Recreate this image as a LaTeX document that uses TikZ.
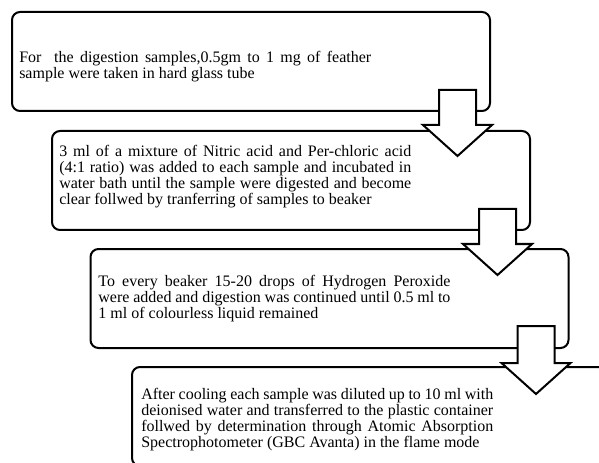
\documentclass[tikz,border=0pt]{standalone}
\usepackage{fontspec}
\setmainfont{Liberation Serif}
\usetikzlibrary{calc}
\tolerance=10000
\hyphenpenalty=10000

\tikzset{
  stepbox/.style={draw, line width=1.5pt, rounded corners=6pt, fill=white,
    minimum width=358.5pt, minimum height=74.25pt, inner sep=0pt},
  steptext/.style={anchor=west, inner sep=0pt, text width=264pt, align=justify,
    font=\fontsize{12pt}{12pt}\selectfont},
  blockarrow/.style={draw, line width=1.5pt, fill=white, line join=miter}
}

\begin{document}
\begin{tikzpicture}[x=0.75pt,y=-0.75pt]
\useasboundingbox (0,0) rectangle (599,463);
\clip (0,0) rectangle (599,463);

\node[stepbox] (s1) at (251,61.5) {};
\node[stepbox] (s2) at (291,180.5) {};
\node[stepbox] (s3) at (329.5,298.5) {};
\node[stepbox] (s4) at (371,416.5) {};

\draw[blockarrow] ($(s1.south east)+(-52,-22)$) -- ++(37,0) -- ++(0,35) -- ++(16,0)
  -- ++(-34.5,31) -- ++(-34.5,-31) -- ++(16,0) -- cycle;
\draw[blockarrow] ($(s2.south east)+(-52,-22)$) -- ++(37,0) -- ++(0,35) -- ++(16,0)
  -- ++(-34.5,31) -- ++(-34.5,-31) -- ++(16,0) -- cycle;
\draw[blockarrow] ($(s3.south east)+(-52,-23)$) -- ++(37,0) -- ++(0,37) -- ++(16,0)
  -- ++(-34.5,31) -- ++(-34.5,-31) -- ++(16,0) -- cycle;

\node[steptext] (t1) at ([xshift=6pt,yshift=-3.5pt]s1.west) {For\ \ the digestion samples,0.5gm to 1 mg of feather\linebreak
  sample were taken in hard glass tube};
\node[steptext] (t2) at ([xshift=6pt,yshift=3pt]s2.west) {3 ml of a mixture of Nitric acid and Per-chloric acid\linebreak
  (4:1 ratio) was added to each sample and incubated in\linebreak
  water bath until the sample were digested and become\linebreak
  clear follwed by tranferring of samples to beaker};
\node[steptext] (t3) at ([xshift=6.5pt]s3.west) {To every beaker 15-20 drops of Hydrogen Peroxide\linebreak
  were added and digestion was continued until 0.5 ml to\linebreak
  1 ml of colourless liquid remained};
\node[steptext] (t4) at ([xshift=7.5pt,yshift=-2pt]s4.west) {After cooling each sample was diluted up to 10 ml with\linebreak
  deionised water and transferred to the plastic container\linebreak
  follwed by determination through Atomic Absorption\linebreak
  Spectrophotometer (GBC Avanta) in the flame mode};
\end{tikzpicture}
\end{document}
